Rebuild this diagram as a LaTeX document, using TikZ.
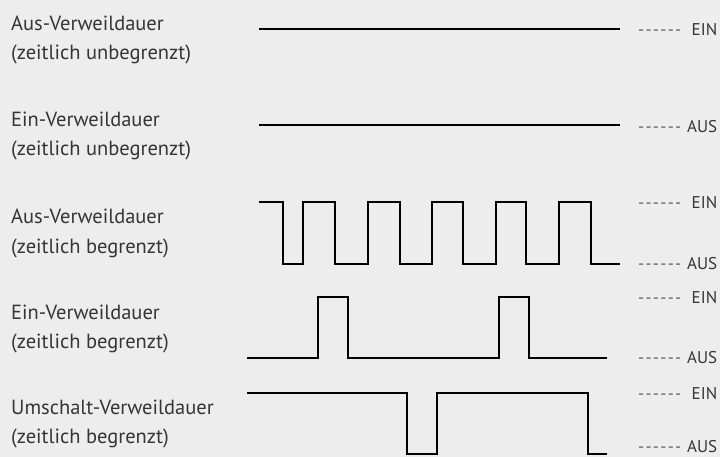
\documentclass[tikz,border=0pt]{standalone}
\usepackage{fontspec}
\setmainfont{PT Sans}
\definecolor{bg}{HTML}{ECEDEC}
\definecolor{txt}{HTML}{353535}
\definecolor{dash}{HTML}{5E5E5E}
\tikzset{
  lbl/.style={anchor=base west, inner sep=0pt, text=txt, font=\fontsize{20.5}{29}\selectfont},
  lvl/.style={anchor=west, inner sep=0pt, text=txt, font=\fontsize{17}{18}\selectfont},
  wave/.style={line width=1.9pt, line join=miter, black}
}
\newcommand\onehy{\makebox[7.4pt][l]{\hbox{-}}}
\newcommand\lvltxt[1]{\makebox[79pt][s]{{\color{dash}\onehy\onehy\onehy\onehy\onehy\onehy}\hfill #1}}
\begin{document}
\begin{tikzpicture}[x=1pt,y=-1pt]
\fill[bg] (0,0) rectangle (720,457);
\useasboundingbox (0,0) rectangle (720,457);
% left labels
\node[lbl] (l1a) at (11,31) {Aus-Verweildauer};
\node[lbl] (l1b) at (11,60) {(zeitlich unbegrenzt)};
\node[lbl] (l2a) at (11,127) {Ein-Verweildauer};
\node[lbl] (l2b) at (11,156) {(zeitlich unbegrenzt)};
\node[lbl] (l3a) at (11,224) {Aus-Verweildauer};
\node[lbl] (l3b) at (11,253) {(zeitlich begrenzt)};
\node[lbl] (l4a) at (11,319) {Ein-Verweildauer};
\node[lbl] (l4b) at (11,348) {(zeitlich begrenzt)};
\node[lbl] (l5a) at (11,414) {Umschalt-Verweildauer};
\node[lbl] (l5b) at (11,443) {(zeitlich begrenzt)};
% right level labels
\node[lvl] (r1) at (638,30) {\lvltxt{EIN}};
\node[lvl] (r2) at (638,127) {\lvltxt{AUS}};
\node[lvl] (r3e) at (638,203) {\lvltxt{EIN}};
\node[lvl] (r3a) at (638,264) {\lvltxt{AUS}};
\node[lvl] (r4e) at (638,298) {\lvltxt{EIN}};
\node[lvl] (r4a) at (638,358) {\lvltxt{AUS}};
\node[lvl] (r5e) at (638,394) {\lvltxt{EIN}};
\node[lvl] (r5a) at (638,447) {\lvltxt{AUS}};
% waveforms
\draw[wave] (259,29) -- (620,29);
\draw[wave] (259,125) -- (620,125);
\draw[wave] (259,202) -- (283,202) -- (283,264) -- (303,264) -- (303,202)
  -- (335,202) -- (335,264) -- (368,264) -- (368,202)
  -- (400,202) -- (400,264) -- (432,264) -- (432,202)
  -- (463,202) -- (463,264) -- (496,264) -- (496,202)
  -- (526,202) -- (526,264) -- (559,264) -- (559,202)
  -- (591,202) -- (591,264) -- (620,264);
\draw[wave] (247,358) -- (318,358) -- (318,297) -- (348,297) -- (348,358)
  -- (499,358) -- (499,297) -- (529,297) -- (529,358) -- (607,358);
\draw[wave] (247,393) -- (407,393) -- (407,454) -- (437,454) -- (437,393)
  -- (588,393) -- (588,454) -- (607,454);
\end{tikzpicture}
\end{document}
